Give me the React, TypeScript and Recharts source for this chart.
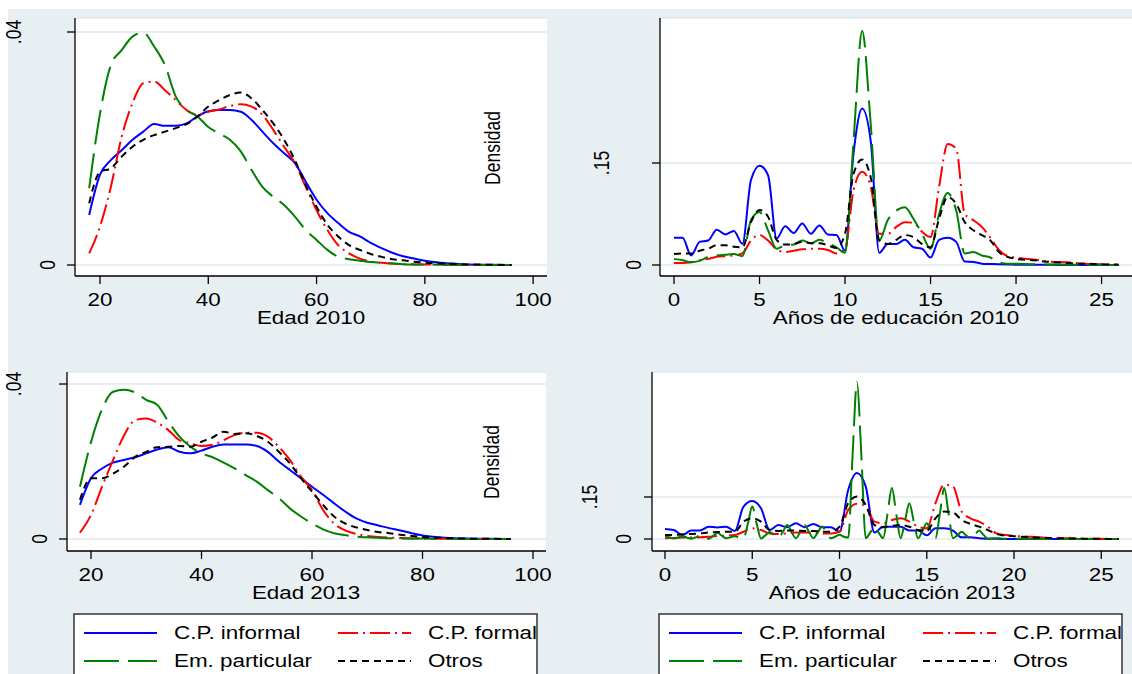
import { LineChart, Line, XAxis, YAxis, CartesianGrid } from 'recharts'

// Kernel densities by employment category (Stata style figure)
const FONT = '"Liberation Sans", Arial, Helvetica, sans-serif'
const SX = 1.28 // the source image is stretched horizontally
const FS = 17.5
const BG = '#e8eff2'
const GRID = '#e1e9ed'

// ---- age panels ----
const ages = [18, 20, 22, 24, 26, 28, 30, 32, 34, 36, 38, 40, 42, 44, 46, 48, 50, 52, 54, 56, 58, 60, 62, 64, 66, 68, 70, 72, 74, 76, 78, 80, 84, 88, 92, 96]

const informal2010 = [0.0086, 0.0155, 0.0180, 0.0197, 0.0215, 0.0229, 0.0242, 0.0239, 0.0239, 0.0243, 0.0255, 0.0264, 0.0266, 0.0266, 0.0263, 0.0249, 0.0229, 0.0209, 0.0192, 0.0175, 0.0143, 0.0112, 0.0089, 0.0072, 0.0057, 0.0049, 0.0038, 0.0029, 0.0021, 0.0015, 0.0011, 0.00074, 0.0003, 0.0001, 0.00003, 0]
const formal2010 = [0.0020, 0.0066, 0.0134, 0.0220, 0.0278, 0.0312, 0.0315, 0.0300, 0.0283, 0.0266, 0.0258, 0.0263, 0.0267, 0.0273, 0.0276, 0.0272, 0.0258, 0.0232, 0.0203, 0.0175, 0.0134, 0.0094, 0.0060, 0.0034, 0.0020, 0.0011, 0.0006, 0.0004, 0.00025, 0.00015, 0.0001, 0.00008, 0.00003, 0.00001, 0, 0]
const particular2010 = [0.0132, 0.0260, 0.0343, 0.0369, 0.0392, 0.0399, 0.0375, 0.0343, 0.0289, 0.0266, 0.0255, 0.0237, 0.0226, 0.0215, 0.0195, 0.0163, 0.0134, 0.0117, 0.0103, 0.0083, 0.0060, 0.0043, 0.0026, 0.0014, 0.0010, 0.00074, 0.0005, 0.00035, 0.00025, 0.00015, 0.0001, 0.00008, 0.00004, 0.00002, 0.00001, 0]
const otros2010 = [0.0106, 0.0160, 0.0166, 0.0186, 0.0203, 0.0215, 0.0223, 0.0229, 0.0235, 0.0242, 0.0255, 0.0272, 0.0283, 0.0292, 0.0296, 0.0286, 0.0266, 0.0243, 0.0215, 0.0180, 0.0137, 0.0100, 0.0069, 0.0049, 0.0034, 0.0026, 0.0019, 0.0014, 0.0010, 0.0008, 0.00057, 0.0004, 0.00023, 0.0001, 0.00005, 0]

const informal2013 = [0.0088, 0.0157, 0.0182, 0.0197, 0.0204, 0.0211, 0.0221, 0.0231, 0.0237, 0.0225, 0.0221, 0.0228, 0.0238, 0.0244, 0.0244, 0.0244, 0.0240, 0.0225, 0.0200, 0.0178, 0.0157, 0.0135, 0.0114, 0.0092, 0.0071, 0.0053, 0.0042, 0.0035, 0.0028, 0.0022, 0.0015, 0.0009, 0.00034, 0.0001, 0.00005, 0]
const formal2013 = [0.0016, 0.0062, 0.0135, 0.0204, 0.0268, 0.0307, 0.0311, 0.0300, 0.0281, 0.0255, 0.0247, 0.0240, 0.0243, 0.0255, 0.0268, 0.0274, 0.0274, 0.0264, 0.0238, 0.0204, 0.0161, 0.0126, 0.0075, 0.0040, 0.0022, 0.0013, 0.0008, 0.0005, 0.00035, 0.00025, 0.00015, 0.0001, 0.00005, 0.00002, 0, 0]
const particular2013 = [0.0135, 0.0250, 0.0335, 0.0380, 0.0385, 0.0378, 0.0359, 0.0346, 0.0303, 0.0264, 0.0238, 0.0221, 0.0211, 0.0197, 0.0182, 0.0165, 0.0148, 0.0126, 0.0105, 0.0079, 0.0058, 0.0040, 0.0025, 0.0015, 0.0010, 0.0006, 0.00043, 0.0003, 0.0002, 0.00015, 0.00012, 0.0001, 0.00005, 0.00002, 0, 0]
const otros2013 = [0.0101, 0.0157, 0.0157, 0.0169, 0.0187, 0.0212, 0.0225, 0.0237, 0.0238, 0.0240, 0.0238, 0.0251, 0.0262, 0.0277, 0.0271, 0.0273, 0.0266, 0.0251, 0.0225, 0.0195, 0.0157, 0.0122, 0.0088, 0.0058, 0.0040, 0.0030, 0.0023, 0.0018, 0.0015, 0.0011, 0.0008, 0.0005, 0.00026, 0.0001, 0.00005, 0]

// ---- education panels ----
const eduX = [0, 0.5, 1, 1.5, 2, 2.5, 3, 3.5, 4, 4.5, 5, 5.5, 6, 6.5, 7, 7.5, 8, 8.5, 9, 9.5, 10, 10.5, 11, 11.5, 12, 12.5, 13, 13.5, 14, 14.5, 15, 15.5, 16, 16.5, 17, 17.5, 18, 18.5, 19, 19.5, 20, 21, 22, 23, 24, 25, 26]

const informal2010E = [0.040, 0.040, 0.014, 0.034, 0.036, 0.052, 0.045, 0.050, 0.031, 0.125, 0.146, 0.132, 0.039, 0.057, 0.047, 0.061, 0.046, 0.058, 0.045, 0.044, 0.021, 0.165, 0.230, 0.183, 0.018, 0.031, 0.031, 0.037, 0.026, 0.024, 0.011, 0.037, 0.040, 0.034, 0.005, 0.0045, 0.002, 0.0015, 0.001, 0.0007, 0.0005, 0.0003, 0.0002, 0.0001, 0, 0, 0]
const formal2010E = [0.003, 0.003, 0.004, 0.007, 0.009, 0.012, 0.013, 0.014, 0.017, 0.036, 0.044, 0.036, 0.023, 0.019, 0.021, 0.023, 0.024, 0.024, 0.022, 0.017, 0.024, 0.110, 0.137, 0.115, 0.046, 0.046, 0.056, 0.063, 0.062, 0.049, 0.041, 0.115, 0.178, 0.171, 0.075, 0.066, 0.056, 0.040, 0.022, 0.013, 0.011, 0.008, 0.005, 0.004, 0.002, 0.001, 0.0005]
const particular2010E = [0.009, 0.007, 0.004, 0.006, 0.012, 0.014, 0.015, 0.016, 0.013, 0.066, 0.078, 0.051, 0.024, 0.029, 0.030, 0.036, 0.032, 0.037, 0.032, 0.026, 0.018, 0.183, 0.344, 0.208, 0.036, 0.066, 0.080, 0.085, 0.068, 0.046, 0.024, 0.075, 0.106, 0.080, 0.017, 0.019, 0.014, 0.011, 0.004, 0.002, 0.002, 0.001, 0.0008, 0.0005, 0.0003, 0.0002, 0]
const otros2010E = [0.016, 0.017, 0.017, 0.021, 0.024, 0.029, 0.029, 0.027, 0.026, 0.063, 0.081, 0.071, 0.037, 0.030, 0.031, 0.034, 0.032, 0.032, 0.029, 0.025, 0.046, 0.134, 0.155, 0.129, 0.036, 0.031, 0.037, 0.044, 0.041, 0.031, 0.026, 0.068, 0.100, 0.090, 0.063, 0.051, 0.044, 0.036, 0.019, 0.012, 0.009, 0.007, 0.0045, 0.003, 0.002, 0.001, 0.0005]

const informal2013E = [0.036, 0.032, 0.014, 0.030, 0.030, 0.044, 0.041, 0.044, 0.029, 0.116, 0.136, 0.110, 0.032, 0.050, 0.042, 0.056, 0.042, 0.054, 0.042, 0.042, 0.026, 0.176, 0.236, 0.188, 0.023, 0.044, 0.044, 0.044, 0.030, 0.030, 0.013, 0.038, 0.038, 0.030, 0.006, 0.006, 0.0024, 0.001, 0.0005, 0.0003, 0.0002, 0.0001, 0, 0, 0, 0, 0]
const formal2013E = [0.003, 0.004, 0.005, 0.0055, 0.006, 0.008, 0.011, 0.012, 0.014, 0.026, 0.038, 0.032, 0.020, 0.018, 0.020, 0.023, 0.023, 0.023, 0.020, 0.020, 0.026, 0.104, 0.126, 0.116, 0.062, 0.056, 0.068, 0.074, 0.062, 0.044, 0.038, 0.128, 0.194, 0.188, 0.098, 0.074, 0.062, 0.044, 0.020, 0.014, 0.011, 0.008, 0.004, 0.0024, 0.0012, 0.0005, 0]
const otros2013E = [0.014, 0.014, 0.017, 0.018, 0.020, 0.023, 0.025, 0.026, 0.026, 0.062, 0.074, 0.062, 0.032, 0.029, 0.030, 0.030, 0.029, 0.029, 0.026, 0.026, 0.044, 0.128, 0.152, 0.122, 0.050, 0.042, 0.047, 0.050, 0.044, 0.032, 0.030, 0.074, 0.098, 0.095, 0.068, 0.054, 0.044, 0.032, 0.018, 0.012, 0.010, 0.006, 0.0036, 0.0024, 0.0012, 0.0006, 0]

// Em. particular 2013 oscillates between whole years, so it is read at quarter years
const eduXFine = [0, 0.25, 0.5, 0.75, 1, 1.25, 1.5, 1.75, 2, 2.25, 2.5, 2.75, 3, 3.25, 3.5, 3.75, 4, 4.25, 4.5, 4.75, 5, 5.25, 5.5, 5.75, 6, 6.25, 6.5, 6.75, 7, 7.25, 7.5, 7.75, 8, 8.25, 8.5, 8.75, 9, 9.25, 9.5, 9.75, 10, 10.25, 10.5, 10.75, 11, 11.25, 11.5, 11.75, 12, 12.25, 12.5, 12.75, 13, 13.25, 13.5, 13.75, 14, 14.25, 14.5, 14.75, 15, 15.25, 15.5, 15.75, 16, 16.25, 16.5, 16.75, 17, 17.25, 17.5, 17.75, 18, 18.25, 18.5, 18.75, 19, 19.25, 19.5, 19.75, 20, 21, 22, 23, 24, 25, 26]
const particular2013E = [0.010, 0.006, 0.002, 0.005, 0.010, 0.005, 0.001, 0.006, 0.012, 0.006, 0.001, 0.010, 0.022, 0.012, 0.003, 0.006, 0.010, 0.005, 0.003, 0.055, 0.116, 0.055, 0.002, 0.013, 0.025, 0.015, 0.005, 0.025, 0.050, 0.025, 0.003, 0.025, 0.050, 0.025, 0.003, 0.023, 0.045, 0.023, 0.003, 0.008, 0.015, 0.008, 0.005, 0.300, 0.560, 0.300, 0.003, 0.022, 0.044, 0.022, 0.003, 0.090, 0.182, 0.090, 0.003, 0.064, 0.128, 0.064, 0.003, 0.028, 0.056, 0.028, 0.003, 0.090, 0.182, 0.090, 0.003, 0.013, 0.026, 0.013, 0.002, 0.015, 0.030, 0.015, 0.001, 0.002, 0.003, 0.002, 0.0005, 0.0005, 0.001, 0.0005, 0.0003, 0.0002, 0.0001, 0, 0]

const ageTicks = [20, 40, 60, 80, 100]
const eduTicks = [0, 5, 10, 15, 20, 25]
const ageYTicks = [0, 0.04]
const eduYTicks = [0, 0.15]

const series = [
  { key: 'inf', name: 'C.P. informal', color: '#0000ff', dash: undefined as string | undefined },
  { key: 'frm', name: 'C.P. formal', color: '#ff0000', dash: '20 5 2 5' },
  { key: 'emp', name: 'Em. particular', color: '#008000', dash: '35 9' },
  { key: 'otr', name: 'Otros', color: '#000000', dash: '7 5' },
]

type Part = { key: string; xs: number[]; ys: number[] }
function buildRows(parts: Part[]) {
  const m = new Map<number, any>()
  parts.forEach((p) => {
    p.xs.forEach((x, i) => {
      if (!m.has(x)) m.set(x, { x })
      m.get(x)[p.key] = p.ys[i]
    })
  })
  return Array.from(m.values()).sort((a, b) => a.x - b.x)
}

const rowsEdad2010 = buildRows([
  { key: 'inf', xs: ages, ys: informal2010 },
  { key: 'frm', xs: ages, ys: formal2010 },
  { key: 'emp', xs: ages, ys: particular2010 },
  { key: 'otr', xs: ages, ys: otros2010 },
])
const rowsEdad2013 = buildRows([
  { key: 'inf', xs: ages, ys: informal2013 },
  { key: 'frm', xs: ages, ys: formal2013 },
  { key: 'emp', xs: ages, ys: particular2013 },
  { key: 'otr', xs: ages, ys: otros2013 },
])
const rowsEdu2010 = buildRows([
  { key: 'inf', xs: eduX, ys: informal2010E },
  { key: 'frm', xs: eduX, ys: formal2010E },
  { key: 'emp', xs: eduX, ys: particular2010E },
  { key: 'otr', xs: eduX, ys: otros2010E },
])
const rowsEdu2013 = buildRows([
  { key: 'inf', xs: eduX, ys: informal2013E },
  { key: 'frm', xs: eduX, ys: formal2013E },
  { key: 'emp', xs: eduXFine, ys: particular2013E },
  { key: 'otr', xs: eduX, ys: otros2013E },
])

const fmt = (v: number) => (v === 0 ? '0' : String(v).replace(/^0/, ''))

function SText({ x, y, rot = false, anchor = 'middle', children }: any) {
  const t = `translate(${x},${y}) scale(${SX},1)` + (rot ? ' rotate(-90)' : '')
  return (
    <text transform={t} textAnchor={anchor} dominantBaseline="central" fontFamily={FONT} fontSize={FS} fill="#000">
      {children}
    </text>
  )
}

const AXIS = { stroke: '#000', strokeWidth: 1.3 }

function Panel({ cfg, rows }: { cfg: any; rows: any[] }) {
  return (
    <div style={{ position: 'absolute', left: cfg.left, top: cfg.top }}>
      <LineChart width={cfg.w} height={cfg.h} data={rows} margin={cfg.margin}>
        <CartesianGrid vertical={false} fill="#ffffff" stroke={GRID} strokeWidth={1.5} />
        <XAxis
          dataKey="x"
          type="number"
          domain={cfg.xDomain}
          ticks={cfg.xTicks}
          allowDataOverflow
          interval={0}
          height={cfg.xH}
          tickSize={8}
          axisLine={AXIS}
          tickLine={AXIS}
          tick={(p: any) => (
            <SText x={p.x} y={cfg.xLabelY}>
              {p.payload.value}
            </SText>
          )}
        />
        <YAxis
          type="number"
          domain={cfg.yDomain}
          ticks={cfg.yTicks}
          allowDataOverflow
          interval={0}
          width={cfg.yW}
          tickSize={8}
          axisLine={AXIS}
          tickLine={AXIS}
          tick={(p: any) => {
            const lab = fmt(p.payload.value)
            return (
              <SText x={cfg.yLabelX[lab]} y={p.y} rot>
                {lab}
              </SText>
            )
          }}
        />
        {series.map((s) => (
          <Line
            key={s.key}
            dataKey={s.key}
            type="monotone"
            stroke={s.color}
            strokeWidth={2}
            strokeDasharray={s.dash}
            dot={false}
            connectNulls
            isAnimationActive={false}
          />
        ))}
      </LineChart>
    </div>
  )
}

const panelTL = {
  left: 0, top: 0, w: 560, h: 330, margin: { top: 18, right: 13, bottom: 0, left: 0 }, yW: 75, xH: 54,
  xDomain: [15.382, 102.56], yDomain: [-0.001888, 0.042403], xTicks: ageTicks, yTicks: ageYTicks,
  xLabelY: 300, yLabelX: { '0': 47, '.04': 13 },
}
const panelTR = {
  left: 560, top: 0, w: 572, h: 330, margin: { top: 18, right: 0, bottom: 0, left: 0 }, yW: 100, xH: 54,
  xDomain: [-0.819, 26.78], yDomain: [-0.01618, 0.3632], xTicks: eduTicks, yTicks: eduYTicks,
  xLabelY: 300, yLabelX: { '0': 73, '.15': 41 },
}
const panelBL = {
  left: 0, top: 340, w: 560, h: 270, margin: { top: 32, right: 14, bottom: 0, left: 0 }, yW: 67, xH: 59,
  xDomain: [15.656, 102.35], yDomain: [-0.0031, 0.0431], xTicks: ageTicks, yTicks: ageYTicks,
  xLabelY: 235, yLabelX: { '0': 39, '.04': 13 },
}
const panelBR = {
  left: 560, top: 340, w: 572, h: 270, margin: { top: 32, right: 0, bottom: 0, left: 0 }, yW: 92, xH: 59,
  xDomain: [-0.745, 26.76], yDomain: [-0.04286, 0.5964], xTicks: eduTicks, yTicks: eduYTicks,
  xLabelY: 235, yLabelX: { '0': 63, '.15': 29 },
}

function LegendBox({ x }: { x: number }) {
  const cols = [
    [series[0], series[2]],
    [series[1], series[3]],
  ]
  const rowY = [633, 661]
  return (
    <g>
      <rect x={x} y={614} width={463} height={80} fill="#fff" stroke="#333" strokeWidth={1.5} />
      {cols.map((col, ci) =>
        col.map((s, ri) => {
          const x0 = x + 10 + ci * 254
          return (
            <g key={s.key}>
              <line x1={x0} x2={x0 + 73} y1={rowY[ri]} y2={rowY[ri]} stroke={s.color} strokeWidth={2} strokeDasharray={s.dash} />
              <SText x={x0 + 90} y={rowY[ri]} anchor="start">
                {s.name}
              </SText>
            </g>
          )
        })
      )}
    </g>
  )
}

export default function App() {
  return (
    <div style={{ position: 'absolute', left: 0, top: 0, width: 1132, height: 674, background: '#fff', overflow: 'hidden' }}>
      <div style={{ position: 'absolute', left: 8, top: 9, width: 1124, height: 665, background: BG }} />
      <Panel cfg={panelTL} rows={rowsEdad2010} />
      <Panel cfg={panelTR} rows={rowsEdu2010} />
      <Panel cfg={panelBL} rows={rowsEdad2013} />
      <Panel cfg={panelBR} rows={rowsEdu2013} />
      <svg width={1132} height={674} style={{ position: 'absolute', left: 0, top: 0, pointerEvents: 'none' }}>
        <SText x={311} y={318}>Edad 2010</SText>
        <SText x={896} y={318}>Años de educación 2010</SText>
        <SText x={306} y={593}>Edad 2013</SText>
        <SText x={892} y={593}>Años de educación 2013</SText>
        <SText x={492} y={148} rot>Densidad</SText>
        <SText x={491} y={462} rot>Densidad</SText>
        <LegendBox x={74} />
        <LegendBox x={659} />
      </svg>
    </div>
  )
}
